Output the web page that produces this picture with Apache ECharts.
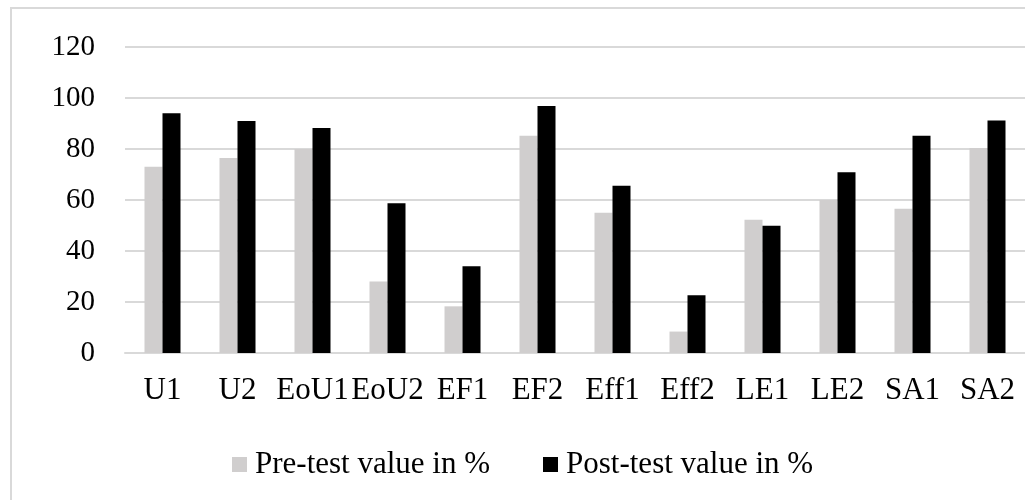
<!DOCTYPE html>
<html>
<head>
<meta charset="utf-8">
<script src="https://cdn.jsdelivr.net/npm/echarts@6/dist/echarts.min.js"></script>
<style>
  html, body { margin: 0; padding: 0; background: #ffffff; }
  #chart { width: 1025px; height: 500px; }
</style>
</head>
<body>
<div id="chart"></div>
<script>
// Item categories along the x axis
const categories = ['U1', 'U2', 'EoU1', 'EoU2', 'EF1', 'EF2', 'Eff1', 'Eff2', 'LE1', 'LE2', 'SA1', 'SA2'];
// Percentages before and after the test
const preTest = [73, 76.5, 80, 28, 18.3, 85.2, 55, 8.4, 52.3, 60, 56.6, 80.4];
const postTest = [94, 91, 88.2, 58.7, 34, 96.9, 65.6, 22.6, 49.9, 70.9, 85.2, 91.2];
const seriesNames = ['Pre-test value in %', 'Post-test value in %'];

const FONT = '"Liberation Serif", "Times New Roman", serif';
const chart = echarts.init(document.getElementById('chart'));

chart.setOption({
  animation: false,
  backgroundColor: '#ffffff',
  textStyle: { fontFamily: FONT, color: '#000000' },
  // light frame around the whole chart area
  graphic: [{
    type: 'rect',
    shape: { x: 11, y: 8, width: 1030, height: 510 },
    style: { fill: 'none', stroke: '#d9d9d9', lineWidth: 2 },
    silent: true
  }],
  grid: { left: 125, right: -1, top: 47, bottom: 147, containLabel: false },
  legend: {
    left: 232,
    top: 449,
    padding: 0,
    itemWidth: 15,
    itemHeight: 15,
    itemGap: 53,
    icon: 'rect',
    textStyle: { fontFamily: FONT, fontSize: 31, color: '#000000', padding: [0, 0, 0, 3] },
    data: seriesNames
  },
  xAxis: {
    type: 'category',
    data: categories,
    axisLine: { lineStyle: { color: '#d9d9d9', width: 2 } },
    axisTick: { show: false },
    axisLabel: { fontFamily: FONT, fontSize: 31, color: '#000000', margin: 22, interval: 0 }
  },
  yAxis: {
    type: 'value',
    min: 0,
    max: 120,
    interval: 20,
    axisLine: { show: false },
    axisTick: { show: false },
    splitLine: { lineStyle: { color: '#d9d9d9', width: 2 } },
    axisLabel: { fontFamily: FONT, fontSize: 29, color: '#000000', margin: 30 }
  },
  series: [
    {
      name: seriesNames[0],
      type: 'bar',
      data: preTest,
      barWidth: 18,
      barGap: '0%',
      itemStyle: { color: '#d0cece' }
    },
    {
      name: seriesNames[1],
      type: 'bar',
      data: postTest,
      barWidth: 18,
      barGap: '0%',
      itemStyle: { color: '#000000' }
    }
  ]
});
</script>
</body>
</html>
